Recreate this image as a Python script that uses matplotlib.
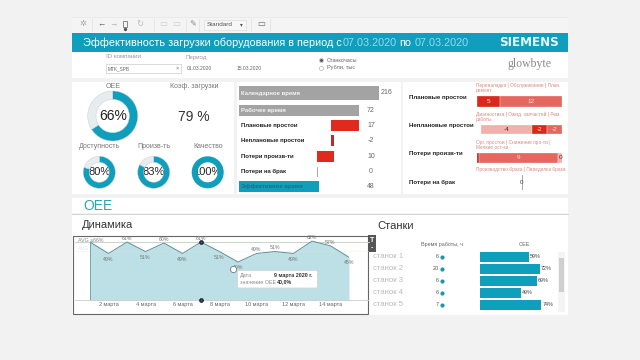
import matplotlib
matplotlib.use('Agg')
from matplotlib import pyplot as plt
from matplotlib.patches import Rectangle, FancyBboxPatch

plt.rcParams['font.family'] = ['Liberation Sans', 'DejaVu Sans']

# donuts
donut_names = ['OEE', 'Доступность', 'Произв-ть', 'Качество']
donut_values = [66, 80, 83, 100]

# waterfall
wf_labels = ['Календарное время', 'Рабочее время', 'Плановые простои', 'Неплановые простои',
             'Потери произв-ти', 'Потери на брак', 'Эффективное время']
wf_values = [216, 72, 17, -2, 10, 0, 48]

# breakdown of losses
loss_names = ['Плановые простои', 'Неплановые простои', 'Потери произв-ти', 'Потери на брак']
loss_captions = ['Переналадка | Обслуживание | План.\nремонт',
                 'Диагностика | Ожид. запчастей | Рем.\nработы',
                 'Орг. простои | Снижение про-ти |\nМелкие ост-ки',
                 'Производство брака | Переделка брака']
loss_values = [[4.6, 12.4], [4.0, 1.2, 1.2], [0.25, 9.3, 0.45], [0]]
loss_text = [['5', '12'], ['-4', '-2', '-2'], ['', '9', '0'], ['0']]
loss_colors = [['#d9291c', '#e4685f'], ['#efb1ab', '#d9291c', '#e4685f'],
               ['#b81c12', '#e4685f', '#efb1ab'], ['#999999']]

# dynamics
days = list(range(1, 16))
oee_by_day = [61, 49, 61, 51, 60, 49, 61, 51, 40, 49, 51, 49, 62, 57, 45]
tick_days = [2, 4, 6, 8, 10, 12, 14]
tick_labels = ['2 марта', '4 марта', '6 марта', '8 марта', '10 марта', '12 марта', '14 марта']

# machines
machines = ['станок 1', 'станок 2', 'станок 3', 'станок 4', 'станок 5']
work_hours = [6, 20, 6, 6, 7]
machine_oee = [59, 72, 69, 49, 74]

TEAL = '#0f9fbd'
GRAY_TXT = '#777777'
W, H = 640, 360

fig = plt.figure(figsize=(W / 100, H / 100), dpi=100, facecolor='#f2f2f2')


def px_axes(x0, y0, x1, y1, zorder=2):
    # axes placed by pixel box, y counted from the top
    ax = fig.add_axes([x0 / W, 1 - y1 / H, (x1 - x0) / W, (y1 - y0) / H], zorder=zorder)
    ax.patch.set_alpha(0)
    ax.axis('off')
    return ax


page = px_axes(0, 0, W, H, zorder=1)
page.set_xlim(0, W)
page.set_ylim(H, 0)


def panel(x0, y0, x1, y1, color='white', **kw):
    page.add_patch(Rectangle((x0, y0), x1 - x0, y1 - y0, facecolor=color, edgecolor='none', **kw))


def label(x, y, s, size=5, color=GRAY_TXT, ha='left', **kw):
    page.text(x, y, s, fontsize=size, color=color, ha=ha, va='center', **kw)


# toolbar
panel(72, 17, 568, 33, color='#f4f4f4')
page.plot([72, 568], [17, 17], color='#e9e9e9', lw=0.6)
for x, s, c in [(83, '✲', '#aaaaaa'), (101, '←', '#555555'), (113, '→', '#aaaaaa'),
                (140, '↻', '#bbbbbb'), (163, '▭', '#cccccc'),
                (176, '▭', '#cccccc'), (193, '✎', '#888888'), (261, '▭', '#666666')]:
    label(x, 25, s, size=6, color=c, ha='center')
page.add_patch(Rectangle((123, 21), 4, 6, facecolor='none', edgecolor='#777777', lw=0.6))
page.plot([125], [28.5], marker='o', ms=1.4, color='#555555')
for x in [92, 154, 186, 199, 251, 270]:
    page.plot([x, x], [19, 31], color='#e3e3e3', lw=0.6)
page.add_patch(Rectangle((204, 20), 42, 10, facecolor='#f7f7f7', edgecolor='#dddddd', lw=0.5))
label(207, 25, 'Standard', size=4.6, color='#555555')
label(241, 25, '▾', size=4, color='#555555', ha='center')

# title bar
panel(72, 33, 568, 52, color=TEAL)
label(83, 42.5, 'Эффективность загрузки оборудования в период с', size=7.85, color='white')
label(343, 42.5, '07.03.2020', size=7.85, color='#8fdcf0')
label(399, 42.5, 'по', size=7.85, color='white')
label(415, 42.5, '07.03.2020', size=7.85, color='#8fdcf0')
label(529, 42.5, 'SIEMENS', size=8.6, color='#e8f7fa', ha='center', fontweight='bold', family='DejaVu Sans')

# filter band
panel(72, 52, 568, 78)
label(106, 57, 'ID компании', size=4.4, color='#999999')
label(186, 57, 'Период', size=4.4, color='#999999')
page.add_patch(Rectangle((106, 64), 75, 9, facecolor='white', edgecolor='#cccccc', lw=0.5))
label(108, 68.5, 'MTK_SPB', size=3.4, color='#666666')
label(177, 68.5, '×', size=4, color='#666666', ha='center')
label(187, 68.5, '01.03.2020', size=3.6, color='#666666')
label(237, 68.5, '15.03.2020', size=3.6, color='#666666')
page.plot([321, 321], [60, 67.5], ls='none', marker='o', ms=3, mfc='white', mec='#aaaaaa', mew=0.4)
page.plot([321], [60], ls='none', marker='o', ms=1.2, color='#555555')
label(327, 60, 'Станкочасы', size=4, color='#666666')
label(327, 67.5, 'Рубли, тыс', size=4, color='#666666')
label(529, 64, 'glowbyte', size=8.5, color='#8a8a8a', ha='center', family='Liberation Serif')

# panels
panel(72, 82, 234, 194)
panel(237, 82, 401, 194)
panel(403, 82, 568, 194)
panel(72, 198, 568, 213)
page.plot([72, 568], [213.5, 213.5], color='#d5d5d5', lw=0.7)
panel(72, 214, 368, 315)
panel(368, 214, 568, 315)
label(83, 205.5, 'OEE', size=10, color='#2aa6b5')
label(82, 224.5, 'Динамика', size=8, color='#333333')
label(377, 226, 'Станки', size=8, color='#333333')


def donut(cx, cy, r_out, r_in, value, txt_size):
    ax = px_axes(cx - r_out, cy - r_out, cx + r_out, cy + r_out)
    rest = 100 - value
    ax.pie([value, rest], startangle=90, counterclock=False, radius=1, colors=[TEAL, '#e7ecef'],
           wedgeprops=dict(width=1 - r_in / r_out, edgecolor='none'))
    if rest:
        ax.pie([value, rest], startangle=90, counterclock=False, radius=1, colors=['none', 'none'],
               wedgeprops=dict(width=1 - r_in / r_out, edgecolor='#c4cbd0', lw=0.3))
    ax.set_xlim(-1, 1)
    ax.set_ylim(-1, 1)
    label(cx, cy, '%d%%' % value, size=txt_size, color='#222222', ha='center', zorder=5)


donut(112.7, 116, 25, 16.7, donut_values[0], 10)
for cx, val in zip([99.3, 153.7, 207.7], donut_values[1:]):
    donut(cx, 172.3, 16, 10, val, 8)
label(112.7, 86.5, donut_names[0], size=5, ha='center')
for cx, name in zip([99.3, 153.7, 207.7], donut_names[1:]):
    label(cx, 147, name, size=5, ha='center')
label(194, 87, 'Коэф. загрузки', size=5, ha='center')
label(194, 117, '79 %', size=10, color='#333333', ha='center')

# waterfall, one unit is 1.667 px, the calendar bar runs off the axes on purpose
ax = px_axes(239, 82, 379, 194)
ax.set_xlim(0, 84)
ax.set_ylim(112, 0)
wf_y = [11, 28.5, 43.5, 58.5, 74.5, 89.5, 104.5]
wf_h = [14, 11, 11, 11, 11, 9, 11]
level = wf_values[1]
for i, val in enumerate(wf_values):
    if i < 2 or i == 6:
        left, width, col = 0, val, '#a3a3a3' if i < 2 else TEAL
    else:
        left, width, col = min(level, level - val), abs(val), '#df2a1d'
        level -= val
    if i == 3:
        col = '#b5302a'
    if val == 0:
        ax.plot([left, left], [wf_y[i] - 4.5, wf_y[i] + 4.5], color='#999999', lw=0.6)
    ax.barh(wf_y[i], width, left=left, height=wf_h[i], color=col)
    col_t = '#f4f4f4' if i < 2 else '#1d6f82' if i == 6 else '#222222'
    ax.text(1, wf_y[i], wf_labels[i], fontsize=4.35, fontweight='bold', color=col_t, va='center', clip_on=False)
    label(371 if i else 381, wf_y[i] + 82, str(val), size=5, color='#666666', ha='center' if i else 'left')

# breakdown rows
rows = [(477, 96, 107), (481, 125, 134), (477, 153, 163), (520, 175, 190)]
name_y = [98, 126, 154, 182]
for i, (x0, y0, y1) in enumerate(rows):
    label(409, name_y[i], loss_names[i], size=4.4, color='#222222', fontweight='bold')
    cap_y = y0 - 8 if i < 3 else 170
    label(476, cap_y, loss_captions[i], size=3.45, color='#d98880', linespacing=1.15)
    if i == 3:
        ax = px_axes(519, y0, 525, y1)
        ax.set_xlim(-1, 1)
        ax.set_ylim(0, 1)
        ax.plot([loss_values[i][0]] * 2, [0, 1], color=loss_colors[i][0], lw=0.6)
        ax.text(0, 0.5, loss_text[i][0], fontsize=4.5, color='#444444', ha='center', va='center')
        continue
    ax = px_axes(x0, y0, 562, y1)
    ax.set_xlim(0, sum(loss_values[i]))
    ax.set_ylim(0, 1)
    left = 0
    for val, txt, col in zip(loss_values[i], loss_text[i], loss_colors[i]):
        ax.barh(0.5, val, left=left, height=1, color=col, edgecolor='white', lw=0.2)
        ax.text(left + val / 2, 0.5, txt, fontsize=4.6, color='#552222' if col == '#efb1ab' else '#f7dcda',
                ha='center', va='center')
        left += val

# dynamics chart
page.add_patch(Rectangle((72.5, 236), 295.5, 78, facecolor='white', edgecolor='#666666', lw=0.8, zorder=1.5))
ax = px_axes(90, 232, 349, 300)
ax.set_xlim(days[0], days[-1])
ax.set_ylim(0, 71.6)
ax.fill_between(days, oee_by_day, 0, color='#bde0e6', lw=0)
ax.plot(days, oee_by_day, color='#5f8d97', lw=0.7)
ax.plot([days[0], days[0]], [0, oee_by_day[0]], color='#5f9aa6', lw=0.6)
ax.plot([0.2, 16.1], [61, 61], color='#c5d6c9', lw=0.7, clip_on=False, zorder=1)
ax.plot([0.2, 16.1], [52, 52], color='#e4e4d8', lw=0.5, ls=':', clip_on=False, zorder=1)
ax.plot([0.2, 16], [0, 0], color='#cccccc', lw=0.6, clip_on=False)
for d, v in zip(days, oee_by_day):
    above = v >= 60 or d in (10, 11, 14)
    off = 4 if above else -6
    if d == 1:
        continue
    ax.text(d, v + off, '%d%%' % v, fontsize=3.8, color='#777777', ha='center', va='center', clip_on=False)
ax.plot([7, 7], [61, 0], ls='none', marker='o', ms=2.4, mfc='#557', mec='#223', clip_on=False)
for d, lab in zip(tick_days, tick_labels):
    ax.text(d, -5, lab, fontsize=4, color='#666666', ha='center', va='center')
label(78, 240, 'AVG ≤66%', size=3.8, color='#8a8a8a')
label(78, 248, 'AVG 51%', size=3.6, color='#e2e2e2')

# tooltip and cursor, on top of the chart
top = px_axes(0, 0, W, H, zorder=6)
top.set_xlim(0, W)
top.set_ylim(H, 0)
top.add_patch(FancyBboxPatch((238, 271), 79, 16.5, boxstyle='round,pad=0.5,rounding_size=1.5',
                             facecolor='white', edgecolor='#d5d5d5', lw=0.6))
top.text(240, 276, 'Дата', fontsize=3.9, color='#888888', va='center')
top.text(240, 282, 'значение OEE', fontsize=3.9, color='#888888', va='center')
top.text(312, 276, '9 марта 2020 г.', fontsize=3.9, color='#333333', va='center', ha='right', fontweight='bold')
top.text(277, 282, '40,0%', fontsize=3.9, color='#333333', va='center', fontweight='bold')
top.plot([233], [269], marker='o', ms=4.5, mfc='white', mec='#666666', mew=0.5)

# filter icon
page.add_patch(Rectangle((368, 235), 8, 17, facecolor='#555555', edgecolor='none', zorder=3))
label(372, 241, 'T', size=5, color='white', ha='center', fontweight='bold', zorder=4)
label(372, 248, '-', size=5, color='white', ha='center', fontweight='bold', zorder=4)

# machines table
label(442, 244.5, 'Время работы, ч', size=3.9, color='#666666', ha='center')
label(524, 244.5, 'OEE', size=3.9, color='#666666', ha='center')
ax = px_axes(480, 251, 560, 311)
ax.set_xlim(0, 80 / 0.83)
ax.set_ylim(4.5, -0.5)
rows_y = list(range(len(machines)))
ax.barh(rows_y, machine_oee, height=0.76, color=TEAL)
for y, v in zip(rows_y, machine_oee):
    ax.text(v + 1, y, '%d%%' % v, fontsize=3.9, color='#444444', va='center')

ax = px_axes(373, 251, 450, 311)
ax.set_xlim(0, 77)
ax.set_ylim(4.5, -0.5)
for y, name, hours in zip(rows_y, machines, work_hours):
    ax.text(0, y, name, fontsize=5.6, color='#bbbbbb', va='center')
    ax.text(66, y, str(hours), fontsize=3.9, color='#555555', va='center', ha='right')
ax.scatter([69] * len(rows_y), rows_y, s=9, color='#1a97a8', lw=0)

# scrollbar
page.add_patch(Rectangle((558, 252), 7, 60, facecolor='#f4f4f4', edgecolor='none', zorder=3))
page.add_patch(Rectangle((559, 258), 5, 34, facecolor='#cfcfcf', edgecolor='none', zorder=3))

fig.savefig('out.png', dpi=100, facecolor=fig.get_facecolor())
